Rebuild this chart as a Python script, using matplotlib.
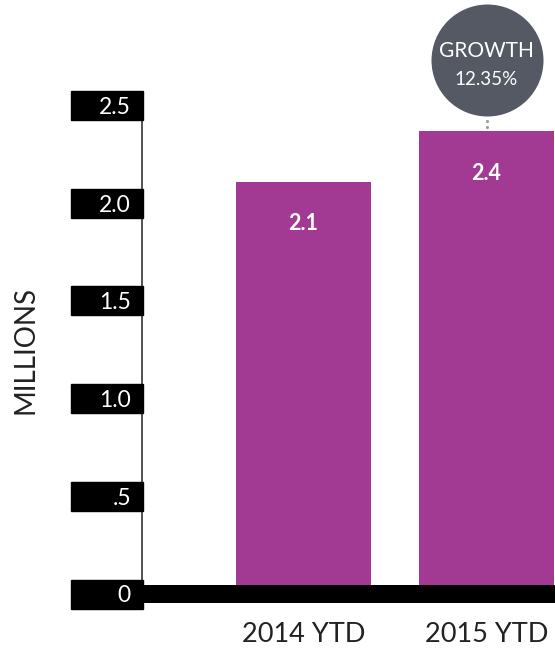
import matplotlib
matplotlib.use("Agg")
import matplotlib.pyplot as plt
import matplotlib.transforms as mtransforms
from matplotlib.patches import Rectangle

plt.rcParams["font.family"] = ["Lato", "DejaVu Sans"]

# Data
categories = ["2014 YTD", "2015 YTD"]
values = [2.108, 2.368]          # millions
growth_pct = 12.35
ytick_values = [0, 0.5, 1.0, 1.5, 2.0, 2.5]
ytick_labels = ["0", ".5", "1.0", "1.5", "2.0", "2.5"]

BAR_COLOR = "#A23A93"
BUBBLE_COLOR = "#545963"

W, H, DPI = 555, 649, 100
fig = plt.figure(figsize=(W / DPI, H / DPI), dpi=DPI)

# axes: left spine at x=142px, zero line at y=594px, 2.5 at y=105px
ax_left, ax_right = 142, 555
ax_bottom, ax_top = H - 594, H - 105.25
ax = fig.add_axes([ax_left / W, ax_bottom / H,
                   (ax_right - ax_left) / W, (ax_top - ax_bottom) / H])

ax.set_ylim(0, 2.5)
ax.set_xlim(-0.8825, 1.3743)
ppu = (ax_top - ax_bottom) / 2.5   # pixels per data unit

x = list(range(len(categories)))
bars = ax.bar(x, values, width=0.738, color=BAR_COLOR, zorder=2)

# value labels inside bars
for xi, v in zip(x, values):
    ax.text(xi, v - 42 / ppu, f"{v:.1f}", ha="center", va="center",
            color="white", fontsize=15.5, fontweight="bold", zorder=4)

# spines
for s in ["top", "right", "bottom"]:
    ax.spines[s].set_visible(False)
ax.spines["left"].set_color("#333333")
ax.spines["left"].set_linewidth(1.2)
ax.spines["left"].set_bounds(0, 2.5)

# thick zero baseline
ax.axhline(0, color="black", lw=18 * 72 / DPI, zorder=3,
           solid_capstyle="butt", clip_on=False)

# y tick labels as black boxes
ax.set_yticks([])
trans = mtransforms.blended_transform_factory(ax.transAxes, ax.transData)
box_w = 72 / (ax_right - ax_left)
box_h = 29 / ppu
for v, lab in zip(ytick_values, ytick_labels):
    ax.add_patch(Rectangle((-box_w + 1 / (ax_right - ax_left), v - box_h / 2),
                           box_w, box_h, transform=trans, color="black",
                           clip_on=False, zorder=5))
    ax.text(-11 / (ax_right - ax_left), v, lab, transform=trans,
            ha="right", va="center_baseline", color="white", fontsize=16.5,
            zorder=6, clip_on=False)

# x category labels
ax.set_xticks(x)
ax.set_xticklabels(categories, fontsize=19.5, color="#222222")
ax.tick_params(axis="x", length=0, pad=20)

# y axis title
fig.text(26 / W, 1 - 350 / H, "MILLIONS", rotation=90, ha="center",
         va="center", fontsize=20, color="#222222")

# growth bubble above the 2015 bar
top = values[1]
cy = top + 71 / ppu
ax.scatter([1], [cy], s=(112 * 72 / DPI) ** 2, color=BUBBLE_COLOR,
           clip_on=False, zorder=5, linewidths=0)
ax.text(1, cy + 9 / ppu, "GROWTH", ha="center", va="center",
        color="white", fontsize=15, zorder=6, clip_on=False)
ax.text(1, cy - 19 / ppu, f"{growth_pct:.2f}%", ha="center", va="center",
        color="white", fontsize=13.5, zorder=6, clip_on=False)
# dotted connector between bubble and bar
ax.plot([1, 1], [top + 4 / ppu, top + 10 / ppu], linestyle="none",
        marker="o", ms=2.2, color="#9a9a9a", markeredgewidth=0,
        clip_on=False, zorder=4)

fig.savefig("out.png", dpi=DPI)
